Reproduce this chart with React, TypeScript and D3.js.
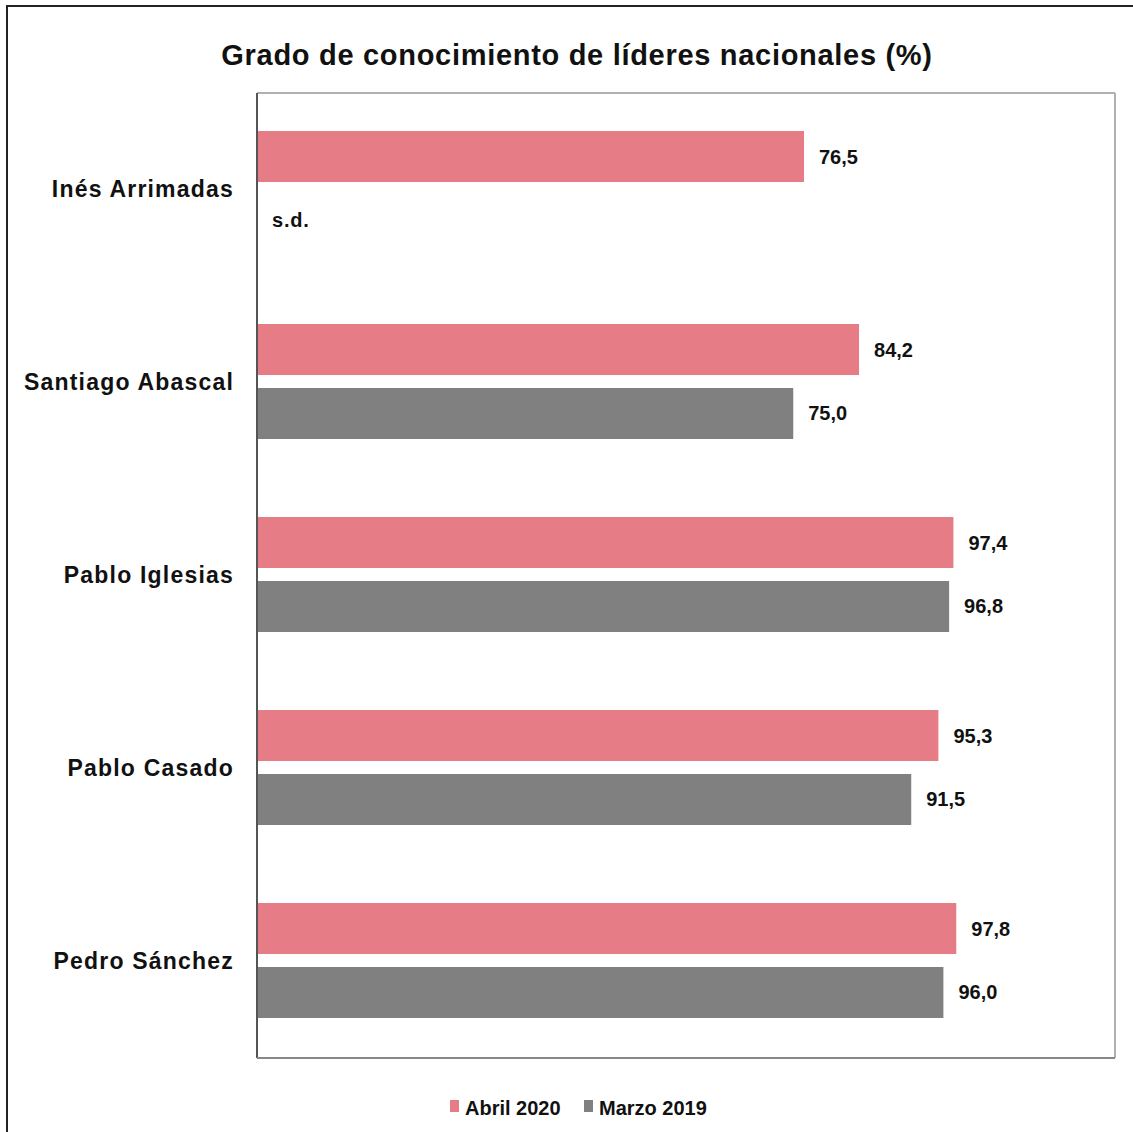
import React from "react";
import * as d3 from "d3";

const categories = ["Inés Arrimadas", "Santiago Abascal", "Pablo Iglesias", "Pablo Casado", "Pedro Sánchez"];
const abril2020: (number | null)[] = [76.5, 84.2, 97.4, 95.3, 97.8];
const marzo2019: (number | null)[] = [null, 75.0, 96.8, 91.5, 96.0];
const seriesNames = ["Abril 2020", "Marzo 2019"];
const seriesColors = ["#e57c86", "#808080"];
const title = "Grado de conocimiento de líderes nacionales (%)";

const W = 1133, H = 1132;
const plot = { left: 257, right: 1115, top: 93, bottom: 1058 };
const font = "'Liberation Sans', Arial, sans-serif";

export default function App() {
  const x = d3.scaleLinear().domain([0, 120]).range([plot.left, plot.right]);
  const y = d3.scaleBand<string>().domain(categories).range([plot.top, plot.bottom]);
  const inner = d3.scaleBand<string>().domain(seriesNames).range([-58.5, 56.5]).paddingInner(0.203);
  const fmt = (v: number) => v.toFixed(1).replace(".", ",");
  const series = [abril2020, marzo2019];

  return (
    <svg width={W} height={H} style={{ position: "absolute", left: 0, top: 0, background: "#fff" }} fontFamily={font}>
      <rect x={7} y={6} width={W + 10} height={H + 10} fill="#fff" stroke="#222" strokeWidth={2} />
      <text x={577} y={65} textAnchor="middle" fontSize={29} fontWeight="bold" fill="#111" letterSpacing={0.7}>{title}</text>
      {/* plot border */}
      <line x1={plot.left} y1={plot.top} x2={plot.right} y2={plot.top} stroke="#b0b0b0" strokeWidth={2} />
      <line x1={plot.right} y1={plot.top} x2={plot.right} y2={plot.bottom} stroke="#b0b0b0" strokeWidth={2} />
      {categories.map((c, ci) => {
        const cy = (y(c) ?? 0) + y.bandwidth() / 2;
        return (
          <g key={c}>
            <text x={234} y={cy - 1} dy="0.35em" textAnchor="end" fontSize={23} fontWeight="bold" fill="#111" letterSpacing={1.2}>{c}</text>
            {series.map((s, si) => {
              const v = s[ci];
              const by = cy + (inner(seriesNames[si]) ?? 0);
              const bh = inner.bandwidth();
              if (v === null) {
                return (
                  <text key={si} x={plot.left + 15} y={by + bh / 2} dy="0.35em" fontSize={20} fontWeight="bold" fill="#111" letterSpacing={0.8}>s.d.</text>
                );
              }
              return (
                <g key={si}>
                  <rect x={x(0)} y={by} width={x(v) - x(0)} height={bh} fill={seriesColors[si]} />
                  <text x={x(v) + 15} y={by + bh / 2} dy="0.35em" fontSize={20} fontWeight="bold" fill="#111">{fmt(v)}</text>
                </g>
              );
            })}
          </g>
        );
      })}
      <line x1={plot.left} y1={plot.top} x2={plot.left} y2={plot.bottom} stroke="#555" strokeWidth={2} />
      <line x1={plot.left} y1={plot.bottom} x2={plot.right} y2={plot.bottom} stroke="#888" strokeWidth={2} />
      {/* legend */}
      {seriesNames.map((n, i) => {
        const lx = [450, 584][i];
        return (
          <g key={n}>
            <rect x={lx} y={1100} width={9} height={12} fill={seriesColors[i]} />
            <text x={lx + 15} y={1108} dy="0.35em" fontSize={20} fontWeight="bold" fill="#111">{n}</text>
          </g>
        );
      })}
    </svg>
  );
}
